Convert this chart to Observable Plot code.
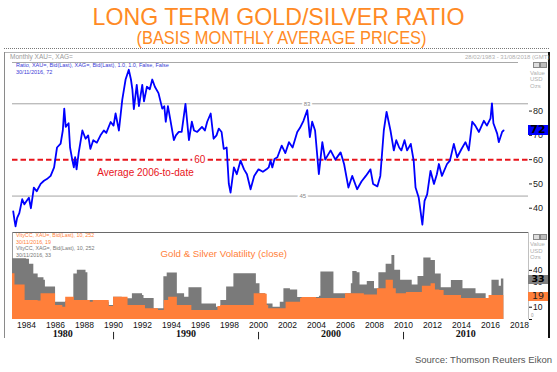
<!DOCTYPE html>
<html><head><meta charset="utf-8">
<script src="https://cdn.jsdelivr.net/npm/d3@7"></script>
<script src="https://cdn.jsdelivr.net/npm/@observablehq/plot@0.6"></script>
<style>
body{margin:0;background:#fff;font-family:"Liberation Sans",Arial,sans-serif}
#root{position:relative;width:557px;height:372px;overflow:hidden;background:#fff}
.a{position:absolute;white-space:nowrap}
.ln{position:absolute}
</style></head><body>
<div id="root"></div>
<script>
// ---- data ----
const ratioYear = [1983.08,1983.17,1983.24,1983.35,1983.5,1983.7,1983.85,1984.0,1984.16,1984.3,1984.42,1984.5,1984.7,1984.97,1985.2,1985.4,1985.66,1985.9,1986.1,1986.35,1986.5,1986.6,1986.7,1986.9,1987.0,1987.15,1987.26,1987.35,1987.45,1987.6,1987.85,1988.07,1988.25,1988.4,1988.6,1988.85,1989.1,1989.33,1989.5,1989.8,1990.0,1990.14,1990.37,1990.6,1990.83,1991.05,1991.2,1991.3,1991.4,1991.6,1991.75,1991.98,1992.1,1992.3,1992.5,1992.67,1992.85,1993.1,1993.36,1993.5,1993.6,1993.75,1993.93,1994.16,1994.3,1994.5,1994.7,1994.96,1995.2,1995.4,1995.55,1995.77,1996.1,1996.3,1996.46,1996.7,1996.9,1997.1,1997.26,1997.45,1997.6,1997.8,1997.95,1998.07,1998.3,1998.5,1998.76,1999.0,1999.2,1999.45,1999.7,2000.0,2000.3,2000.55,2000.7,2000.83,2000.95,2001.1,2001.3,2001.6,2001.85,2002.1,2002.35,2002.67,2002.85,2003.1,2003.36,2003.54,2003.7,2003.9,2004.16,2004.4,2004.6,2004.97,2005.3,2005.66,2005.9,2006.2,2006.46,2006.8,2007.1,2007.4,2007.72,2007.9,2008.2,2008.4,2008.64,2008.83,2009.1,2009.33,2009.5,2009.7,2009.85,2010.07,2010.25,2010.5,2010.7,2010.83,2011.05,2011.3,2011.45,2011.63,2011.86,2012.1,2012.3,2012.44,2012.65,2013.0,2013.2,2013.47,2013.7,2014.0,2014.27,2014.5,2014.74,2014.95,2015.2,2015.54,2015.75,2016.0,2016.1,2016.2,2016.46,2016.57,2016.8,2016.9];
const ratioValue = [38.7,35,32.5,36,38,43.7,41.6,43,44.3,40,45,48.5,47,50,51.3,52,53.3,56.8,65,66.6,72,81,73.5,75,65,60,56.8,61,56,63,72,68.6,70,64.4,68,67,70,72,71,75.5,74,79,72,84.6,93,97,93,88.8,80.8,90.8,82,90.8,84,90,89,93,90,87.4,81,82,75.6,82,76,68,70,71.4,71.4,83,68,75.6,72,71.4,73.5,72,75.6,79,68.6,70,72.8,71.4,64.4,65,50,46.4,56.8,54,59.6,56,54,47.8,53.3,56,55,56,56.8,59.6,56.8,60.3,61,65.8,62.7,67.2,65,71.4,73,76,80.4,69.3,75.6,72,54,67.2,60,63.8,60,63,58.2,48.5,53.3,47.8,51,53.3,56,50,49,53.3,72,79.7,72,63.8,68,65,63.8,68,63.8,66.5,59.6,48.5,44.3,33.2,43,45.7,55.4,50,54,58.2,53.3,58.2,59.6,66.5,61,64.4,67.2,63.8,75.6,74,71.4,76,74,77,83.2,75,70.7,67.2,71.4,72];

const silverVolYear = [1983.03,1983.5,1984.0,1984.2,1984.5,1984.8,1985.2,1985.3,1985.9,1986.0,1986.7,1986.75,1987.2,1987.26,1987.5,1988.1,1988.23,1988.8,1989.5,1989.7,1990.0,1990.5,1990.6,1991.2,1991.3,1992.0,1992.1,1992.6,1992.8,1993.2,1993.47,1993.7,1994.2,1994.4,1994.8,1994.9,1995.2,1995.9,1996.1,1996.9,1997.1,1997.4,1997.8,1998.1,1998.3,1999.4,1999.85,2000.1,2000.5,2001.0,2001.5,2001.75,2002.2,2002.7,2003.5,2004.2,2004.3,2005.1,2005.2,2006.3,2006.4,2006.5,2006.8,2007.0,2007.5,2008.0,2008.3,2008.8,2009.2,2009.4,2009.8,2010.3,2010.6,2011.0,2011.4,2011.9,2012.2,2012.6,2013.2,2013.3,2014.0,2014.1,2014.7,2015.0,2015.7,2016.1,2016.4,2016.6,2016.75,2016.92];
const silverVol = [49.5,49.5,49,45,37,34,32,26.4,26.4,14,14.7,18,18,37,40,38,15.5,15,14,11.4,18.2,18.2,16.9,16.9,21,19.6,17,17,8.8,8.8,34.7,37.8,37.8,21,21,18.2,25.8,25.8,12.7,12.7,10,15.5,26.4,26.4,37.3,37.3,29,21,12.7,10,14,25,24,18,18,19,38.6,38.6,21,21,29,39,38,28,31,25,38,45,52,40,32,32,28,35,50,48,37,25.8,25.8,31.8,31.8,25,25,21,17,32,32,27,33,33];

const goldVolYear = [1983.03,1983.2,1983.7,1983.9,1984.8,1985.0,1985.8,1986.0,1986.5,1986.7,1987.2,1987.3,1988.2,1988.4,1988.6,1989.6,1989.7,1990.0,1990.8,1991.0,1991.9,1992.2,1992.9,1993.1,1993.5,1993.8,1994.2,1994.4,1995.1,1995.4,1997.0,1997.2,1997.4,1999.6,1999.7,2000.5,2000.6,2000.7,2001.7,2001.9,2002.9,2003.0,2004.0,2005.9,2006.0,2007.0,2007.3,2007.9,2008.2,2008.8,2009.3,2009.5,2010.0,2010.2,2011.0,2011.3,2011.8,2011.9,2012.2,2012.5,2012.8,2013.9,2014.0,2015.7,2015.9,2016.92];
const goldVol = [37.3,28,28,15.5,15,21,21,11.4,10,18.2,18.2,15.5,15.5,14,15.5,15.5,10.5,18.2,18.2,11.4,11.4,8.8,8.8,7.3,15.5,18.2,18.2,11.4,11.4,7.3,7.3,10.5,11.4,11.4,21,20.5,11.4,8.8,8.8,14,17,18,17,17,21,21,20,20,25,32,25,21,21,22,22,27,27,29,24,23.7,19.6,19.6,17,17,19.6,19.6];

const xDomain = [1983.03, 2018.62];
const upperTicks = [40, 50, 60, 70, 80];
const lowerTicks = [0, 10, 20, 30, 40];
const yearTicks = [1984,1986,1988,1990,1992,1994,1996,1998,2000,2002,2004,2006,2008,2010,2012,2014,2016,2018];
const decadeLabels = ["1980","1990","2000","2010"];
const decadeMid = [1986.5, 1995, 2005, 2014.3];
const decadeSeps = [1990, 2000, 2010];
const refLines = [83, 45];
const refLabelYear = [2003.35, 2003.05];
const average = 60;
const lastRatio = 72, lastSilver = 33, lastGold = 19;

const ORANGE = "#ff7f3a", GREY = "#7a7a7a", BLUE = "#0000ff", RED = "#e8141b", TITLE = "#ff8a24";
const FONT = "Liberation Sans, Arial, sans-serif";

const root = document.getElementById("root");
function txt(s, css){ const d=document.createElement("div"); d.className="a"; d.textContent=s; d.style.cssText += css; root.appendChild(d); return d; }
function line(css){ const d=document.createElement("div"); d.className="ln"; d.style.cssText = css; root.appendChild(d); return d; }

// ---- header (title / subtitle) ----
const head = d3.select(root).append("svg").attr("width",557).attr("height",48)
  .style("position","absolute").style("left","0px").style("top","0px");
head.append("text").attr("x",278.5).attr("y",24.5).attr("text-anchor","middle")
  .attr("font-family",FONT).attr("font-size",24).attr("fill",TITLE)
  .attr("textLength",372).attr("lengthAdjust","spacingAndGlyphs").text("LONG TERM GOLD/SILVER RATIO");
head.append("text").attr("x",281.5).attr("y",44).attr("text-anchor","middle")
  .attr("font-family",FONT).attr("font-size",18).attr("fill",TITLE)
  .attr("textLength",290).attr("lengthAdjust","spacingAndGlyphs").text("(BASIS MONTHLY AVERAGE PRICES)");

// ---- frame lines ----
line("left:4px;top:48px;width:545px;height:0;border-top:1px dotted #777");
line("left:4px;top:52px;width:545px;height:1px;background:#b5b5b5");
line("left:4px;top:52px;width:1px;height:286px;background:#8a8a8a");
line("left:548px;top:52px;width:2px;height:286px;background:#111");
line("left:12px;top:62px;width:506px;height:1px;background:#a8a8a8");
line("left:12px;top:232px;width:516px;height:1px;background:#6a6a6a");
line("left:12px;top:232px;width:1px;height:87px;background:#9a9a9a");
line("left:528px;top:232px;width:1px;height:87px;background:#c0c0c0");

// ---- upper panel ----
const ratio = ratioYear.map((x,i)=>({x, y: ratioValue[i]}));
const upper = Plot.plot({
  width:557, height:170, marginTop:0, marginBottom:0, marginLeft:12, marginRight:29,
  style:{background:"transparent", fontFamily:FONT, fontSize:"9px", color:"#222", overflow:"visible"},
  x:{domain:xDomain, axis:null},
  y:{domain:[30,100], axis:"right", ticks:upperTicks, tickSize:3, tickPadding:1.5, tickFormat:d=>String(d), label:null},
  marks:[
    Plot.ruleY(refLines, {stroke:"#a3a3a3", strokeWidth:1}),
    Plot.text(refLines, {x:(d,i)=>refLabelYear[i], y:d=>d, text:d=>String(d), fill:"#888", stroke:"white", strokeWidth:4, fontSize:6}),
    Plot.ruleY([average], {stroke:RED, strokeWidth:2, strokeDasharray:"5.5,3"}),
    Plot.text([average], {x:()=>1995.95, y:d=>d, text:d=>String(d), fill:RED, stroke:"white", strokeWidth:5, fontSize:10}),
    Plot.text(["Average 2006-to-date"], {x:()=>1992.2, y:()=>54.4, text:d=>d, fill:RED, fontSize:10}),
    Plot.line(ratio, {x:"x", y:"y", stroke:BLUE, strokeWidth:1.8})
  ]
});
const uw = document.createElement("div"); uw.className="a"; uw.style.left="0px"; uw.style.top="62px";
uw.appendChild(upper); root.appendChild(uw);

// ---- lower panel ----
const silver = silverVolYear.map((x,i)=>({x, y: silverVol[i]}));
const gold = goldVolYear.map((x,i)=>({x, y: goldVol[i]}));
const lower = Plot.plot({
  width:557, height:117, marginTop:1, marginBottom:30, marginLeft:12, marginRight:29,
  style:{background:"transparent", fontFamily:FONT, fontSize:"8.5px", color:"#111", overflow:"visible"},
  x:{domain:xDomain, ticks:yearTicks, tickSize:0, tickPadding:2.5, tickFormat:d=>String(d), label:null},
  y:{domain:[0,70], axis:"right", ticks:lowerTicks, tickSize:3, tickPadding:1.5, tickFormat:d=>d===0?"":String(d), label:null},
  marks:[
    Plot.areaY(silver, {x:"x", y:"y", fill:GREY, curve:"step-after"}),
    Plot.areaY(gold, {x:"x", y:"y", fill:ORANGE, curve:"step-after"}),
    Plot.text(decadeLabels, {x:(d,i)=>decadeMid[i], frameAnchor:"bottom", dy:17, text:d=>d, fontFamily:"Liberation Serif, serif", fontWeight:"bold", fontSize:10, fill:"#111"}),
    Plot.ruleX(decadeSeps, {y1:-10.5, y2:-16.5, stroke:"#222", strokeWidth:1})
  ]
});
const lw = document.createElement("div"); lw.className="a"; lw.style.left="0px"; lw.style.top="232px";
lw.appendChild(lower); root.appendChild(lw);

// ---- texts ----
txt("Monthly XAU=, XAG=", "left:10px;top:52.5px;font-size:6.5px;color:#9a9a9a;line-height:8px");
txt("28/02/1983 - 31/08/2018 (GMT)", "left:465px;top:52.5px;font-size:6px;color:#b0b0b0;line-height:8px");
txt("Ratio, XAU=, Bid(Last), XAG=, Bid(Last),  1.0, 1.0, False, False", "left:16px;top:62px;font-size:5.5px;color:#3a3ad6;line-height:6.6px");
txt("30/11/2016, " + lastRatio, "left:16px;top:68.6px;font-size:5.5px;color:#3a3ad6;line-height:6.6px");
txt("VltyCC, XAU=, Bid(Last),  10, 252", "left:16px;top:232.4px;font-size:5.3px;color:"+ORANGE+";line-height:6.4px");
txt("30/11/2016, " + lastGold, "left:16px;top:238.8px;font-size:5.3px;color:"+ORANGE+";line-height:6.4px");
txt("VltyCC, XAG=, Bid(Last),  10, 252", "left:16px;top:245.2px;font-size:5.3px;color:#777;line-height:6.4px");
txt("30/11/2016, " + lastSilver, "left:16px;top:251.6px;font-size:5.3px;color:#777;line-height:6.4px");
txt("Gold & Silver Volatility (close)", "left:160.5px;top:248px;font-size:9.7px;color:"+ORANGE+";line-height:11px");
txt("0", "left:531px;top:313px;font-size:4.5px;color:#999;line-height:5px");
["Value","USD","Ozs"].forEach((s,i)=>{
  txt(s, `left:530px;top:${69.5+i*6.7}px;font-size:6px;color:#b0b0b0;line-height:6.6px`);
  txt(s, `left:530px;top:${241+i*6.7}px;font-size:6px;color:#b0b0b0;line-height:6.6px`);
});
[62, 234].forEach(t=>{
  line(`left:533px;top:${t}px;width:5px;height:4px;border:1px solid #888;background:#ddd`);
  line(`left:540px;top:${t}px;width:5px;height:4px;border:1px solid #888;background:#bbb`);
});

// ---- value boxes positioned from the plots' scales ----
const uy = upper.scale("y"), ly = lower.scale("y");
function box(v, center, h, bg, color, weight, size){
  return txt(String(v), `left:528px;width:20px;height:${h}px;top:${center-h/2}px;background:${bg};color:${color};font-weight:${weight};font-size:${size}px;line-height:${h}px;text-align:center;font-family:'DejaVu Sans',sans-serif`);
}
box(lastRatio, 62 + uy.apply(lastRatio), 10, BLUE, "#000", "bold", 11);
box(lastSilver, 233 + ly.apply(lastSilver), 8.5, "#808080", "#000", "bold", 9.5);
box(lastGold, 233 + ly.apply(lastGold), 8.5, ORANGE, "#222", "normal", 9.5);

txt("Source: Thomson Reuters Eikon", "right:5px;top:354px;font-size:9.5px;color:#555;line-height:11px");
</script>
</body></html>
